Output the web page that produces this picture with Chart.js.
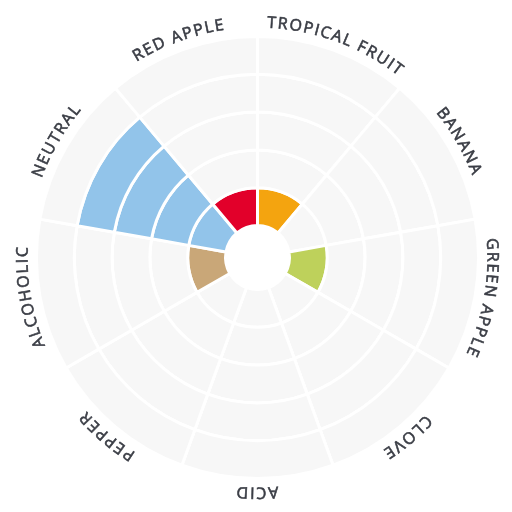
<!DOCTYPE html>
<html>
<head>
<meta charset="utf-8">
<script src="https://cdn.jsdelivr.net/npm/chart.js@4.4.1/dist/chart.umd.min.js"></script>
<style>
  html, body { margin: 0; padding: 0; background: #fff; }
  #wrap { width: 512px; height: 512px; }
</style>
</head>
<body>
<div id="wrap"><canvas id="wheel"></canvas></div>
<script>
// flavour categories, clockwise from the top
var categories = ['TROPICAL FRUIT', 'BANANA', 'GREEN APPLE', 'CLOVE', 'ACID', 'PEPPER', 'ALCOHOLIC', 'NEUTRAL', 'RED APPLE'];
// intensity per category (number of filled rings)
var intensity = [1, 0, 1, 0, 0, 0, 1, 4, 1];
var flavourColors = ['#f4a40f', '#f2d03b', '#bed15b', '#8c6b4f', '#e9e36a', '#6d6e70', '#c9a778', '#92c4ea', '#e2002a'];
var levels = [5, 4, 3, 2, 1]; // outer ring first
var emptyColor = '#f7f7f7';

var datasets = [];
for (const lvl of levels) {
    datasets.push({
        data: categories.map(() => 1),
        backgroundColor: categories.map((c, i) => intensity[i] >= lvl ? flavourColors[i] : emptyColor),
        borderColor: '#ffffff',
        borderWidth: 3,
        hoverOffset: 0,
    });
}

// curved labels around the outside
var curvedLabels = {
    id: 'curvedLabels',
    afterDraw(chart) {
        const ctx = chart.ctx;
        const arcs = chart.getDatasetMeta(0).data;
        ctx.save();
        ctx.font = '16px "Open Sans"';
        ctx.fillStyle = '#3a3d45';
        ctx.strokeStyle = '#3a3d45';
        ctx.lineWidth = 0.6;
        ctx.textAlign = 'center';
        ctx.textBaseline = 'alphabetic';
        const spacing = 1.6;
        arcs.forEach((arc, i) => {
            const r = arc.outerRadius + 9;
            const mid = (arc.startAngle + arc.endAngle) / 2;
            const text = categories[i];
            const widths = [...text].map(ch => ctx.measureText(ch).width);
            const total = widths.reduce((a, b) => a + b, 0) + spacing * (text.length - 1);
            let a = mid - total / 2 / r;
            [...text].forEach((ch, k) => {
                const ang = a + widths[k] / 2 / r;
                ctx.save();
                ctx.translate(arc.x + r * Math.cos(ang), arc.y + r * Math.sin(ang));
                ctx.rotate(ang + Math.PI / 2);
                ctx.fillText(ch, 0, 0);
                ctx.strokeText(ch, 0, 0);
                ctx.restore();
                a += (widths[k] + spacing) / r;
            });
        });
        ctx.restore();
    }
};

new Chart(document.getElementById('wheel'), {
    type: 'doughnut',
    data: { labels: categories, datasets: datasets },
    options: {
        responsive: true,
        maintainAspectRatio: false,
        animation: false,
        cutout: 32,
        layout: { padding: { left: 35, top: 35, right: 32, bottom: 32 } },
        plugins: { legend: { display: false }, tooltip: { enabled: false } },
    },
    plugins: [curvedLabels],
});
</script>
</body>
</html>
